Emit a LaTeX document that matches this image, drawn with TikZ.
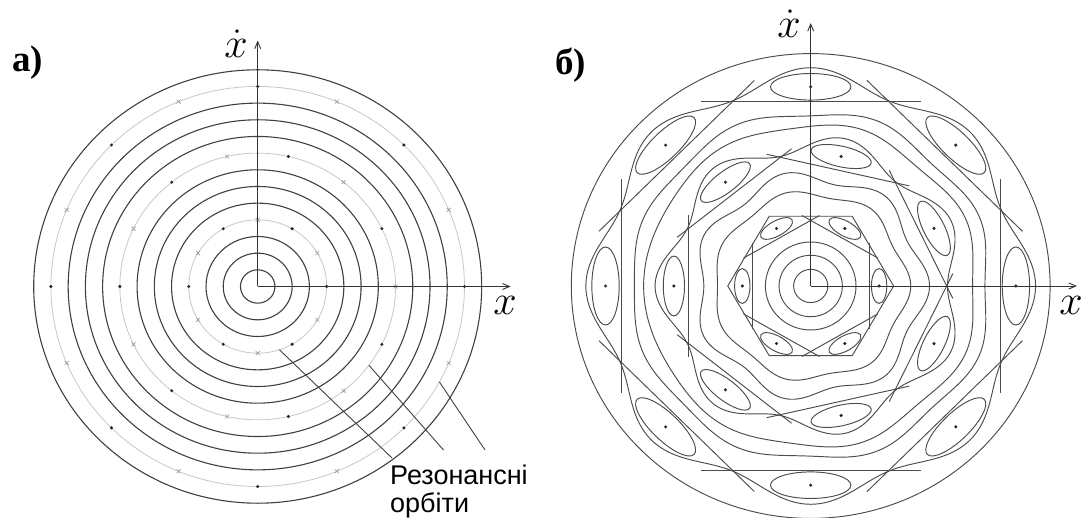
\documentclass[tikz,border=0pt]{standalone}
\usepackage{fix-cm}
\usepackage{fontspec}
\setmainfont{Liberation Serif}
\setsansfont{Liberation Sans}
\usetikzlibrary{arrows.meta,calc,shapes.misc}

\begin{document}
\begin{tikzpicture}[x=1pt,y=1pt,
  orbit/.style={black!75,line width=1.1pt},
  resorbit/.style={black!22,line width=0.8pt},
  curve/.style={black!70,line width=0.95pt},
  axis/.style={black!80,line width=0.9pt,-{Straight Barb[length=7pt,width=6pt]}},
  pdot/.style={circle,fill=black!85,inner sep=0pt,minimum size=3.4pt},
  xdot/.style={cross out,draw=black!40,line width=0.6pt,inner sep=0pt,minimum size=3.4pt},
  panel/.style={font=\fontsize{37}{40}\selectfont\bfseries,anchor=base west,inner sep=0pt},
  axlabel/.style={font=\fontsize{42}{44}\selectfont,anchor=base,inner sep=0pt}]
  \useasboundingbox (0,0) rectangle (1081,518);

  \begin{scope}[shift={(257.7,231.5)},xscale=17.23,yscale=16.67]
    \foreach \k in {1,2,3,5,6,7,9,10,11,13}
      \draw[orbit] (0,0) circle[radius=\k];
    \foreach \k in {4,8,12}
      \draw[resorbit] (0,0) circle[radius=\k];
    \foreach \j in {0,...,5}{
      \node[pdot] (ea\j) at ({60*\j}:4) {};
      \node[xdot] (ha\j) at ({60*\j+30}:4) {};
    }
    \foreach \j in {0,...,6}{
      \node[pdot] (eb\j) at ({51.4286*\j+25.7143}:8) {};
      \node[xdot] (hb\j) at ({51.4286*\j}:8) {};
    }
    \foreach \j in {0,...,7}{
      \node[pdot] (ec\j) at ({45*\j}:12) {};
      \node[xdot] (hc\j) at ({45*\j+22.5}:12) {};
    }
    \coordinate (oa) at (0,0);
    \coordinate (xa) at (14.68,0);
    \coordinate (ya) at (0,14.75);
    \coordinate (ra1) at (-71.6:4);
    \coordinate (ra2) at (-36.2:8);
    \coordinate (ra3) at (-28.5:12);
  \end{scope}
  \draw[axis] (oa) -- (xa);
  \draw[axis] (oa) -- (ya);

  \node[font=\fontsize{27}{28}\selectfont\sffamily,anchor=base west,align=left,inner sep=0pt]
    (res) at (390,5) {Резонансні\\орбіти};
  \coordinate (ta1) at (392,60);
  \coordinate (ta2) at (443.5,68);
  \coordinate (ta3) at (485,68);
  \draw[black!75,line width=0.9pt] (ra1) -- (ta1);
  \draw[black!75,line width=0.9pt] (ra2) -- (ta2);
  \draw[black!75,line width=0.9pt] (ra3) -- (ta3);

  \begin{scope}[shift={(810.7,232)},xscale=17.1,yscale=16.6]
    \foreach \r in {1,1.85,2.65,14}
      \draw[curve] (0,0) circle[radius=\r];
    \draw[curve] plot[domain=0:358,samples=180,smooth cycle]
      (\x:{5.6+0.05*cos(6*\x)+0.2*cos(7*\x)});
    \draw[curve] plot[domain=0:358,samples=180,smooth cycle]
      (\x:{6.6+0.35*cos(7*\x)});
    \draw[curve] plot[domain=0:358,samples=180,smooth cycle]
      (\x:{9.7+0.15*cos(7*(\x-180))+0.08*cos(8*(\x-22.5))});
    \draw[curve] plot[domain=0:358,samples=180,smooth cycle]
      (\x:{10.45+0.06*cos(7*(\x-180))+0.2*cos(8*(\x-22.5))});
    \foreach \n/\R/\a/\t in {6/3.95/30/0.15,7/7.95/0/0.12,8/12/22.5/0.2}
      \foreach \j in {1,...,\n}{
        \pgfmathsetmacro\pa{\a+360*\j/\n}
        \pgfmathsetmacro\pb{\a+360*(\j+1)/\n}
        \draw[curve] ($(\pa:\R)!-\t!(\pb:\R)$) -- ($(\pb:\R)!-\t!(\pa:\R)$);
      }
    \draw[curve] (0:4.85) \foreach \q in {60,120,...,300}{ -- (\q:4.85)} -- cycle;
    \draw[curve] plot[domain=0:358,samples=180,smooth cycle]
      (\x:{8.55+0.55*cos(7*(\x-180))});
    \draw[curve] plot[domain=0:358,samples=180,smooth cycle]
      (\x:{12.6+0.55*cos(8*\x)});
    \foreach \n/\R/\a/\w/\h in {6/4/0/0.45/1.05,7/8/25.7143/0.62/1.8,8/12/0/0.8/2.35}
      \foreach \j in {1,...,\n}{
        \pgfmathsetmacro\pa{\a+360*\j/\n}
        \draw[curve,rotate around={\pa:(\pa:\R)}] (\pa:\R) ellipse[x radius=\w,y radius=\h];
        \node[pdot] (i\n-\j) at (\pa:\R) {};
      }
    \coordinate (ob) at (0,0);
    \coordinate (xb) at (15.57,0);
    \coordinate (yb) at (0,15.84);
  \end{scope}
  \draw[axis] (ob) -- (xb);
  \draw[axis] (ob) -- (yb);

  \node[panel] (pa) at (12,446) {а)};
  \node[panel] (pb) at (555,443) {б)};
  \node[axlabel] (dxa) at (236,460) {$\dot{x}$};
  \node[axlabel] (lxa) at (505,203) {$x$};
  \node[axlabel] (dxb) at (789,480) {$\dot{x}$};
  \node[axlabel] (lxb) at (1071,203) {$x$};
\end{tikzpicture}
\end{document}
